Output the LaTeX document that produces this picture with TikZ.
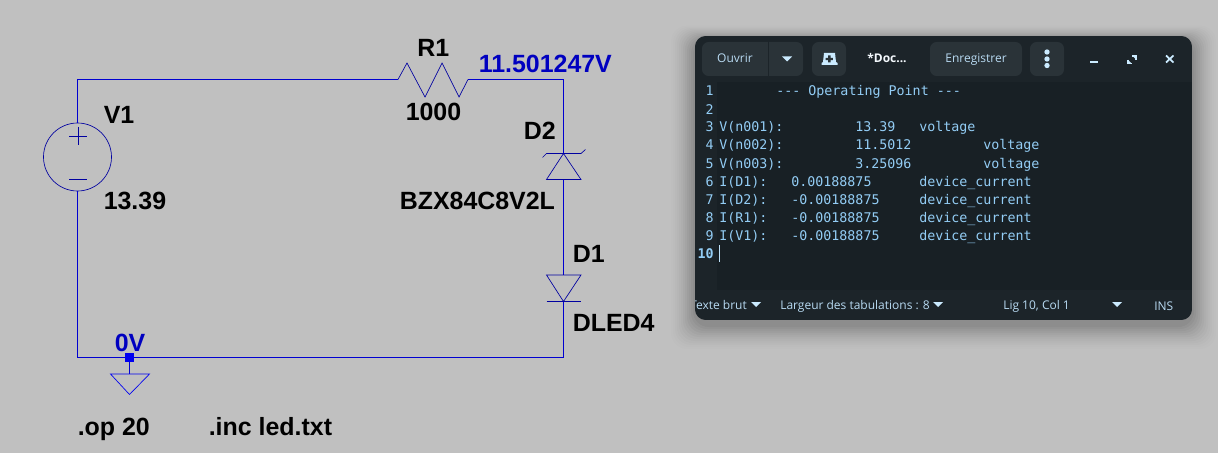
\documentclass[tikz,border=0pt]{standalone}
\usepackage{fontspec}
\setmainfont{Liberation Sans}
\newfontfamily\uifont{Open Sans}
\newfontfamily\codefont{DejaVu Sans Mono}
\definecolor{bgc}{HTML}{C0C0C0}
\definecolor{wire}{HTML}{0000D0}
\definecolor{sym}{HTML}{0000A0}
\definecolor{gnd}{HTML}{0000F0}
\definecolor{vlab}{HTML}{0000C0}
\definecolor{win}{HTML}{1C2429}
\definecolor{edit}{HTML}{182025}
\definecolor{btn}{HTML}{2A3338}
\definecolor{code}{HTML}{93CDF5}
\definecolor{uitx}{HTML}{B8DAF2}
\definecolor{icon}{HTML}{CBEBFF}
\tikzset{
  x=0.75pt,y=-0.75pt,
  wirel/.style={draw=wire,line width=0.7pt},
  syml/.style={draw=sym,line width=0.5pt,line join=miter},
  lab/.style={inner sep=0,anchor=base west,text=black,font=\fontsize{18.7}{18.7}\selectfont\bfseries},
  vl/.style={lab,text=vlab},
  cd/.style={inner sep=0,anchor=base west,text=code,font=\codefont\fontsize{10}{12}\selectfont},
  ln/.style={inner sep=0,anchor=base east,text=code,font=\codefont\fontsize{10}{12}\selectfont},
  ui/.style={inner sep=0,anchor=base,text=uitx,font=\uifont\fontsize{9}{11}\selectfont},
  bt/.style={fill=btn,rounded corners=5pt},
  ic/.style={fill=icon,draw=none},
}
\begin{document}
\begin{tikzpicture}
\useasboundingbox (0,0) rectangle (1218,453);
\fill[bgc] (0,0) rectangle (1218,453);

% ---- schematic
\coordinate (tl) at (77.5,79.5);
\coordinate (tr) at (563.5,79.5);
\coordinate (bl) at (77.5,357);
\coordinate (br) at (563.5,357);
\coordinate (gj) at (129.5,357);
\node[draw=sym,line width=0.5pt,circle,minimum size=51pt,inner sep=0] (v1) at (77.5,157) {};
\coordinate (rl) at (398,79.5);
\coordinate (rr) at (468,79.5);
\coordinate (d2a) at (563.5,153.5);
\coordinate (d2b) at (563.5,179.5);
\coordinate (d1a) at (563.5,275);
\coordinate (d1b) at (563.5,301.5);
\coordinate (gt) at (129.5,374);

\draw[wirel] (v1.north) -- (tl) -- (rl);
\draw[wirel] (rr) -- (tr) -- (d2a);
\draw[wirel] (d2b) -- (d1a);
\draw[wirel] (d1b) -- (br) -- (bl) -- (v1.south);
\draw[wirel] (gj) -- (gt);
\fill[gnd] (125,352.5) rectangle (134,361.5);

\draw[syml] (69,136) -- (87,136) (78,127) -- (78,145);
\draw[syml] (69,179) -- (87,179);
\draw[syml] (rl) -- (407,63) -- (425,97) -- (442,63) -- (459,97) -- (rr);
\draw[syml] (542.5,157.5) -- (546.5,153.5) -- (581,153.5) -- (585.5,149.5);
\draw[syml] (d2a) -- (546.5,179.5) -- (581,179.5) -- cycle;
\draw[syml] (546.5,275) -- (581,275) -- (d1b) -- cycle;
\draw[syml] (546.5,301.5) -- (581,301.5);
\draw[draw=gnd,line width=0.5pt] (110.5,374) -- (149.5,374) -- (129.5,394.5) -- cycle;

\node[lab] (lr1) at (417,57) {R1};
\node[lab] (lr) at (405.5,121) {1000};
\node[vl] (ln2) at (478.5,73) {11.501247V};
\node[lab] (ld2) at (523.5,139) {D2};
\node[lab] (lbz) at (399.5,209) {BZX84C8V2L};
\node[lab] (ld1) at (572.5,262) {D1};
\node[lab] (ldl) at (572.5,331) {DLED4};
\node[lab] (lv1) at (103.5,123) {V1};
\node[lab] (lv) at (103.5,209) {13.39};
\node[vl] (l0) at (114.5,351) {0V};
\node[lab] (lop) at (77.5,435) {.op 20};
\node[lab] (linc) at (208.5,435) {.inc led.txt};

% ---- window shadow
\foreach \e/\o in {24/0.006,22/0.009,20/0.012,18/0.015,16/0.018,14/0.021,12/0.024,10/0.027,8/0.03,6/0.033,4/0.036,2/0.04}{
  \fill[black,opacity=\o,rounded corners=12pt] (695-\e,36-0.6*\e+4) rectangle (1192+\e,320+\e+5);
}
% ---- window
\begin{scope}
\clip[rounded corners=8pt] (695,36) rectangle (1192,320);
\fill[win] (695,36) rectangle (1192,320);
\fill[edit] (717,82) rectangle (1192,290);

\fill[bt] (702,42) rectangle (803,76);
\draw[win,line width=0.8pt] (768.5,42) -- (768.5,76);
\fill[bt] (812,42) rectangle (846,76);
\fill[bt] (930,42) rectangle (1022,76);
\fill[bt] (1030,42) rectangle (1064,76);

\node[ui] (b1) at (735,63) {Ouvrir};
\fill[ic] (782,56.5) -- (792,56.5) -- (787,61.5) -- cycle;
% new-document icon
\fill[ic] (824,53) -- (835,53) -- (836,62) -- (837.5,63) -- (837.5,65) -- (821.5,65) -- (821.5,63) -- (823,62) -- cycle;
\fill[btn] (828,55.5) rectangle (830.5,62.5) (825.7,57.8) rectangle (832.8,60.2);
\node[ui,text=white!85!uitx,font=\uifont\bfseries\fontsize{9}{11}\selectfont] (b2) at (887,63) {*Doc...};
\node[ui] (b3) at (976,63) {Enregistrer};
\fill[ic] (1047,52) circle (2pt) (1047,59) circle (2pt) (1047,65.5) circle (2pt);
% window controls
\draw[icon,line width=1.1pt] (1090,62) -- (1098,62);
\draw[icon,line width=1.1pt] (1128,60) -- (1128,63.5) -- (1132,63.5) (1136,60) -- (1136,56) -- (1132,56);
\fill[ic] (1128,60) -- (1128,63.5) -- (1131.5,63.5) -- cycle (1136,59.5) -- (1136,56) -- (1132.5,56) -- cycle;
\draw[icon,line width=1.3pt] (1166,55.5) -- (1173.5,62.5) (1173.5,55.5) -- (1166,62.5);

% code lines
\foreach \n/\y in {1/96,2/114,3/132,4/150,5/168,6/186,7/204,8/222,9/240}{
  \node[ln] at (714,\y) {\n};
}
\node[ln,font=\codefont\bfseries\fontsize{10}{12}\selectfont] (ln10) at (714,258) {10};
\draw[code!60!white,line width=0.6pt] (719.5,245) -- (719.5,262);

\node[cd] (c1) at (776,96) {--- Operating Point ---};
\node[cd] at (719,132) {V(n001):};
\node[cd] at (855,132) {13.39};
\node[cd] at (919,132) {voltage};
\node[cd] at (719,150) {V(n002):};
\node[cd] at (855,150) {11.5012};
\node[cd] at (983,150) {voltage};
\node[cd] at (719,168) {V(n003):};
\node[cd] at (855,168) {3.25096};
\node[cd] at (983,168) {voltage};
\node[cd] at (719,186) {I(D1):};
\node[cd] at (791,186) {0.00188875};
\node[cd] at (919,186) {device\_current};
\node[cd] at (719,204) {I(D2):};
\node[cd] at (791,204) {-0.00188875};
\node[cd] at (919,204) {device\_current};
\node[cd] at (719,222) {I(R1):};
\node[cd] at (791,222) {-0.00188875};
\node[cd] at (919,222) {device\_current};
\node[cd] at (719,240) {I(V1):};
\node[cd] at (791,240) {-0.00188875};
\node[cd] at (919,240) {device\_current};

% status bar
\node[ui,anchor=base west] (s1) at (690,309) {Texte brut};
\fill[ic] (751,302) -- (761,302) -- (756,307) -- cycle;
\node[ui,anchor=base west] (s2) at (780,309) {Largeur des tabulations : 8};
\fill[ic] (933,302) -- (943,302) -- (938,307) -- cycle;
\node[ui,anchor=base west] (s3) at (1003,309) {Lig 10, Col 1};
\fill[ic] (1112,302) -- (1122,302) -- (1117,307) -- cycle;
\node[ui,anchor=base west] (s4) at (1154,310) {INS};
\end{scope}
\end{tikzpicture}
\end{document}
